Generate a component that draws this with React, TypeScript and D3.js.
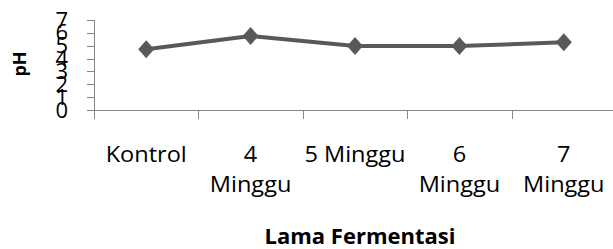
import { useEffect, useRef } from 'react';
import * as d3 from 'd3';

const categories = ['Kontrol', '4 Minggu', '5 Minggu', '6 Minggu', '7 Minggu'];
const labelLines = [['Kontrol'], ['4', 'Minggu'], ['5 Minggu'], ['6', 'Minggu'], ['7', 'Minggu']];
const phValues = [4.72, 5.75, 4.98, 4.98, 5.26];
const yTicks = [0, 1, 2, 3, 4, 5, 6, 7];

const App = () => {
    const svgRef = useRef(null);

    useEffect(() => {
        const svg = d3.select(svgRef.current);
        svg.selectAll('*').remove();

        const left = 94;
        const top = 20;
        const bottom = 110;

        const x = d3.scaleBand().domain(categories).range([left, left + 5 * 104.4]);
        const y = d3.scaleLinear().domain([0, 7]).range([bottom, top]);

        const axisColor = '#868686';
        const font = "'Open Sans', 'Liberation Sans', sans-serif";

        // y axis
        svg.append('line')
            .attr('x1', left + 0.5).attr('x2', left + 0.5)
            .attr('y1', top).attr('y2', bottom + 9)
            .attr('stroke', axisColor);
        yTicks.forEach((t) => {
            svg.append('line')
                .attr('x1', left - 7).attr('x2', left)
                .attr('y1', Math.round(y(t)) + 0.5).attr('y2', Math.round(y(t)) + 0.5)
                .attr('stroke', axisColor);
            svg.append('text')
                .attr('x', 68).attr('y', y(t) + 7.5)
                .attr('text-anchor', 'end')
                .attr('font-family', font)
                .attr('font-size', 22)
                .attr('fill', '#000')
                .text(t);
        });

        // x axis
        svg.append('line')
            .attr('x1', left - 7).attr('x2', 613)
            .attr('y1', bottom + 0.5).attr('y2', bottom + 0.5)
            .attr('stroke', axisColor);
        categories.forEach((c, i) => {
            if (i > 0) {
                const xx = Math.round(x(c)) + 0.5;
                svg.append('line')
                    .attr('x1', xx).attr('x2', xx)
                    .attr('y1', bottom).attr('y2', bottom + 9)
                    .attr('stroke', axisColor);
            }
            const cx = x(c) + x.bandwidth() / 2;
            const t = svg.append('text')
                .attr('transform', `translate(${cx},0) scale(1.07,1)`)
                .attr('text-anchor', 'middle')
                .attr('font-family', font)
                .attr('font-size', 22)
                .attr('fill', '#000');
            labelLines[i].forEach((ln, j) => {
                t.append('tspan').attr('x', 0).attr('y', 162 + j * 30).text(ln);
            });
        });

        // line
        const line = d3.line()
            .x((d, i) => x(categories[i]) + x.bandwidth() / 2)
            .y((d) => y(d));
        svg.append('path')
            .datum(phValues)
            .attr('d', line)
            .attr('fill', 'none')
            .attr('stroke', '#595959')
            .attr('stroke-width', 4)
            .attr('stroke-linejoin', 'round');

        // diamond markers
        svg.selectAll('path.m')
            .data(phValues)
            .enter()
            .append('path')
            .attr('class', 'm')
            .attr('d', 'M0,-9L8,0L0,9L-8,0Z')
            .attr('transform', (d, i) => `translate(${x(categories[i]) + x.bandwidth() / 2},${y(d)})`)
            .attr('fill', '#595959');

        // axis titles
        svg.append('text')
            .attr('transform', 'translate(26,64) rotate(-90)')
            .attr('text-anchor', 'middle')
            .attr('font-family', font)
            .attr('font-weight', 'bold')
            .attr('font-size', 18)
            .text('pH');
        svg.append('text')
            .attr('x', 360).attr('y', 244)
            .attr('text-anchor', 'middle')
            .attr('font-family', font)
            .attr('font-weight', 'bold')
            .attr('font-size', 22)
            .text('Lama Fermentasi');
    }, []);

    return (
        <svg
            ref={svgRef}
            width={613}
            height={249}
            style={{ position: 'absolute', left: 0, top: 0, background: '#fff' }}
        />
    );
};

export default App;
